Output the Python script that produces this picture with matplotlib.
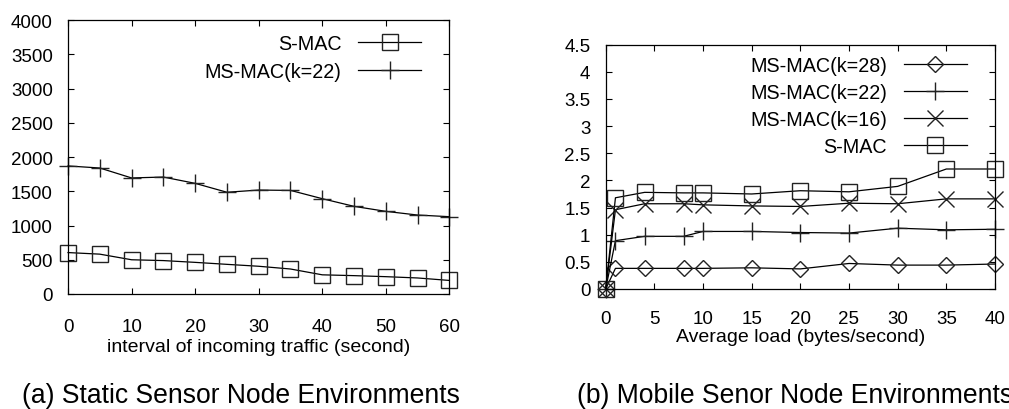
import matplotlib.pyplot as plt

plt.rcParams['font.family'] = ['Liberation Sans', 'DejaVu Sans']
plt.rcParams['font.size'] = 14

# (a) static nodes
interval = [0, 5, 10, 15, 20, 25, 30, 35, 40, 45, 50, 55, 60]
smac_static = [605, 582, 500, 488, 462, 433, 405, 365, 280, 268, 253, 234, 198]
msmac22_static = [1870, 1840, 1695, 1708, 1616, 1486, 1518, 1513, 1392, 1280, 1207, 1153, 1129]

# (b) mobile nodes
load = [0, 1, 4, 8, 10, 15, 20, 25, 30, 35, 40]
msmac28_mobile = [0, 0.38, 0.38, 0.38, 0.38, 0.39, 0.37, 0.47, 0.44, 0.44, 0.46]
msmac22_mobile = [0, 0.89, 0.97, 0.97, 1.06, 1.06, 1.04, 1.03, 1.12, 1.09, 1.10]
msmac16_mobile = [0, 1.46, 1.57, 1.57, 1.55, 1.53, 1.52, 1.58, 1.57, 1.66, 1.66]
smac_mobile = [0, 1.68, 1.78, 1.77, 1.77, 1.75, 1.81, 1.79, 1.89, 2.21, 2.21]

fig = plt.figure(figsize=(10.09, 4.10), dpi=100)
ax1 = fig.add_axes([0.0674, 0.2805, 0.378, 0.668])
ax2 = fig.add_axes([0.6003, 0.2927, 0.3858, 0.5959])

line_kw = dict(color='black', lw=0.9, mfc='none', mec='#222222', mew=1.0, clip_on=False)

ax1.plot(interval, smac_static, marker='s', ms=11, label='S-MAC', **line_kw)
ax1.plot(interval, msmac22_static, marker='+', ms=13, label='MS-MAC(k=22)', **line_kw)
ax1.set_xlim(0, 60)
ax1.set_ylim(0, 4000)
ax1.set_xticks(range(0, 61, 10))
ax1.set_yticks(range(0, 4001, 500))
ax1.set_xlabel('interval of incoming traffic (second)', labelpad=2.5)
ax1.tick_params(axis='x', pad=17)
ax1.legend(loc='upper right', bbox_to_anchor=(0.9265, 0.95), frameon=False,
           markerfirst=False, numpoints=1, borderpad=0, borderaxespad=0,
           handlelength=3.2, handletextpad=0.85, labelspacing=0.45, fontsize=14.2)

ax2.plot(load, msmac28_mobile, marker='D', ms=8.5, label='MS-MAC(k=28)', **line_kw)
ax2.plot(load, msmac22_mobile, marker='+', ms=13, label='MS-MAC(k=22)', **line_kw)
ax2.plot(load, msmac16_mobile, marker='x', ms=11, label='MS-MAC(k=16)', **line_kw)
ax2.plot(load, smac_mobile, marker='s', ms=11, label='S-MAC', **line_kw)
ax2.set_xlim(0, 40)
ax2.set_ylim(0, 4.5)
ax2.set_xticks(range(0, 41, 5))
ax2.set_yticks([0, 0.5, 1, 1.5, 2, 2.5, 3, 3.5, 4, 4.5])
ax2.set_yticklabels(['0', '0.5', '1', '1.5', '2', '2.5', '3', '3.5', '4', '4.5'])
ax2.set_xlabel('Average load (bytes/second)', labelpad=1)
ax2.tick_params(axis='x', pad=15)
ax2.legend(loc='upper right', bbox_to_anchor=(0.928, 0.953), frameon=False,
           markerfirst=False, numpoints=1, borderpad=0, borderaxespad=0,
           handlelength=3.2, handletextpad=0.85, labelspacing=0.4, fontsize=14.2)

for ax in (ax1, ax2):
    ax.tick_params(direction='in', length=4.5, width=0.8, top=True, right=True,
                   labelsize=13.5)
    ax.tick_params(axis='y', pad=11)
    for s in ax.spines.values():
        s.set_linewidth(0.9)

fig.text(0.239, 0.017, '(a) Static Sensor Node Environments', ha='center', va='baseline', fontsize=19.1)
fig.text(0.572, 0.017, '(b) Mobile Senor Node Environments', ha='left', va='baseline', fontsize=19.1)

plt.savefig('out.png')
